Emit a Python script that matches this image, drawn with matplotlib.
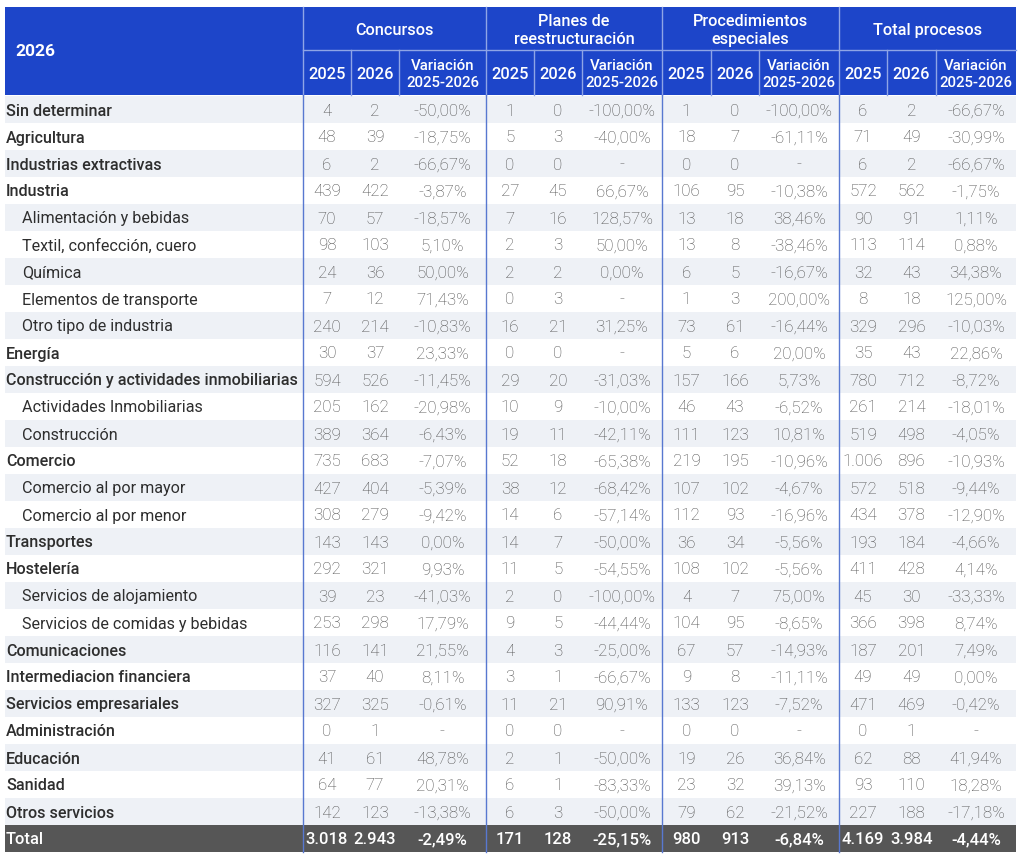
import matplotlib
matplotlib.use("Agg")
import matplotlib.pyplot as plt
from matplotlib.patches import Rectangle

plt.rcParams['font.family'] = ['Roboto', 'DejaVu Sans']

# ---- data ----
year_label = "2026"
groups = ["Concursos", "Planes de\nreestructuración", "Procedimientos\nespeciales", "Total procesos"]
sub_headers = ["2025", "2026", "Variación\n2025-2026"]

sectors = [
    "Sin determinar", "Agricultura", "Industrias extractivas", "Industria",
    "Alimentación y bebidas", "Textil, confección, cuero", "Química",
    "Elementos de transporte", "Otro tipo de industria", "Energía",
    "Construcción y actividades inmobiliarias", "Actividades Inmobiliarias",
    "Construcción", "Comercio", "Comercio al por mayor", "Comercio al por menor",
    "Transportes", "Hostelería", "Servicios de alojamiento",
    "Servicios de comidas y bebidas", "Comunicaciones", "Intermediacion financiera",
    "Servicios empresariales", "Administración", "Educación", "Sanidad",
    "Otros servicios",
]
level = [0, 0, 0, 0, 1, 1, 1, 1, 1, 0, 0, 1, 1, 0, 1, 1, 0, 0, 1, 1, 0, 0, 0, 0, 0, 0, 0]

concursos_2025 = [4, 48, 6, 439, 70, 98, 24, 7, 240, 30, 594, 205, 389, 735, 427, 308, 143, 292, 39, 253, 116, 37, 327, 0, 41, 64, 142]
concursos_2026 = [2, 39, 2, 422, 57, 103, 36, 12, 214, 37, 526, 162, 364, 683, 404, 279, 143, 321, 23, 298, 141, 40, 325, 1, 61, 77, 123]
concursos_var = [-50.00, -18.75, -66.67, -3.87, -18.57, 5.10, 50.00, 71.43, -10.83, 23.33, -11.45, -20.98, -6.43, -7.07, -5.39, -9.42, 0.00, 9.93, -41.03, 17.79, 21.55, 8.11, -0.61, None, 48.78, 20.31, -13.38]

planes_2025 = [1, 5, 0, 27, 7, 2, 2, 0, 16, 0, 29, 10, 19, 52, 38, 14, 14, 11, 2, 9, 4, 3, 11, 0, 2, 6, 6]
planes_2026 = [0, 3, 0, 45, 16, 3, 2, 3, 21, 0, 20, 9, 11, 18, 12, 6, 7, 5, 0, 5, 3, 1, 21, 0, 1, 1, 3]
planes_var = [-100.00, -40.00, None, 66.67, 128.57, 50.00, 0.00, None, 31.25, None, -31.03, -10.00, -42.11, -65.38, -68.42, -57.14, -50.00, -54.55, -100.00, -44.44, -25.00, -66.67, 90.91, None, -50.00, -83.33, -50.00]

especiales_2025 = [1, 18, 0, 106, 13, 13, 6, 1, 73, 5, 157, 46, 111, 219, 107, 112, 36, 108, 4, 104, 67, 9, 133, 0, 19, 23, 79]
especiales_2026 = [0, 7, 0, 95, 18, 8, 5, 3, 61, 6, 166, 43, 123, 195, 102, 93, 34, 102, 7, 95, 57, 8, 123, 0, 26, 32, 62]
especiales_var = [-100.00, -61.11, None, -10.38, 38.46, -38.46, -16.67, 200.00, -16.44, 20.00, 5.73, -6.52, 10.81, -10.96, -4.67, -16.96, -5.56, -5.56, 75.00, -8.65, -14.93, -11.11, -7.52, None, 36.84, 39.13, -21.52]

total_2025 = [6, 71, 6, 572, 90, 113, 32, 8, 329, 35, 780, 261, 519, 1006, 572, 434, 193, 411, 45, 366, 187, 49, 471, 0, 62, 93, 227]
total_2026 = [2, 49, 2, 562, 91, 114, 43, 18, 296, 43, 712, 214, 498, 896, 518, 378, 184, 428, 30, 398, 201, 49, 469, 1, 88, 110, 188]
total_var = [-66.67, -30.99, -66.67, -1.75, 1.11, 0.88, 34.38, 125.00, -10.03, 22.86, -8.72, -18.01, -4.05, -10.93, -9.44, -12.90, -4.66, 4.14, -33.33, 8.74, 7.49, 0.00, -0.42, None, 41.94, 18.28, -17.18]

grand_total = [3018, 2943, -2.49, 171, 128, -25.15, 980, 913, -6.84, 4169, 3984, -4.44]


def fmt_int(v):
    return f"{v:,}".replace(",", ".")


def fmt_pct(v):
    if v is None:
        return "-"
    return f"{v:.2f}".replace(".", ",") + "%"


columns = [
    (concursos_2025, concursos_2026, concursos_var),
    (planes_2025, planes_2026, planes_var),
    (especiales_2025, especiales_2026, especiales_var),
    (total_2025, total_2026, total_var),
]

# ---- layout (pixels) ----
W, H = 1024, 859
left, right = 5, 1016
top, mid, head_bot = 7, 50, 95
row_h = 27
col_edges = [303, 351, 399, 486, 534, 582, 662, 711, 759, 839, 887, 936, 1016]

blue = "#1d45c9"
line_blue = "#5878d0"
sep = "#8fa5e6"
shade = "#eef1f6"
total_bg = "#565656"
label_col = "#2e2e2e"
num_col = "#4f4f4f"

fig = plt.figure(figsize=(W / 100, H / 100), dpi=100)
ax = fig.add_axes([0, 0, 1, 1])
ax.set_xlim(0, W)
ax.set_ylim(H, 0)
ax.axis("off")

# header band
ax.add_patch(Rectangle((left, top), right - left, head_bot - top, color=blue, lw=0))
ax.text(15, (top + head_bot) / 2 + 1, year_label, color="white", fontsize=12.5,
        fontweight="bold", va="center", ha="left")
for g, name in enumerate(groups):
    x0, x1 = col_edges[3 * g], col_edges[3 * g + 3]
    ax.text((x0 + x1) / 2, (top + mid) / 2 + 2, name, color="white", fontsize=11.7,
            fontweight="medium", ha="center", va="center", linespacing=1.3)
    for k, sh in enumerate(sub_headers):
        a, b = col_edges[3 * g + k], col_edges[3 * g + k + 1]
        big = k < 2
        ax.text((a + b) / 2, (mid + head_bot) / 2 + 2, sh, color="white",
                fontsize=11.8 if big else 10.8, fontweight="medium",
                ha="center", va="center", linespacing=1.2)
# separators in the header
ax.plot([col_edges[0], right], [mid, mid], color=sep, lw=1)
for i, x in enumerate(col_edges[:-1]):
    y0 = top if i % 3 == 0 else mid
    ax.plot([x, x], [y0, head_bot], color=sep, lw=1)

# body rows
for r, name in enumerate(sectors):
    y0 = head_bot + 1 + r * row_h
    yc = y0 + row_h / 2 + 1.5
    if r % 2 == 0:
        ax.add_patch(Rectangle((left, y0), right - left, row_h, color=shade, lw=0))
    indent = 6 if level[r] == 0 else 22
    ax.text(indent, yc, name, color=label_col, fontsize=11.6,
            fontweight="medium" if level[r] == 0 else "normal",
            ha="left", va="center")
    for g, (c25, c26, cv) in enumerate(columns):
        vals = [fmt_int(c25[r]), fmt_int(c26[r]), fmt_pct(cv[r])]
        for k, s in enumerate(vals):
            a, b = col_edges[3 * g + k], col_edges[3 * g + k + 1]
            ax.text((a + b) / 2, yc, s, color=num_col, fontsize=12.2,
                    fontweight="light", ha="center", va="center")

# total row
y0 = head_bot + 1 + len(sectors) * row_h
yc = y0 + row_h / 2 + 1.5
ax.add_patch(Rectangle((left, y0), right - left, row_h, color=total_bg, lw=0))
ax.text(6, yc, "Total", color="white", fontsize=11.9, fontweight="medium",
        ha="left", va="center")
for i, v in enumerate(grand_total):
    a, b = col_edges[i], col_edges[i + 1]
    s = fmt_pct(v) if i % 3 == 2 else fmt_int(v)
    ax.text((a + b) / 2, yc, s, color="white", fontsize=12, fontweight="medium",
            ha="center", va="center")

# vertical group lines in the body
for x in col_edges[0:12:3]:
    ax.plot([x, x], [head_bot, y0 + row_h], color=line_blue, lw=1)

fig.savefig("out.png", dpi=100)
